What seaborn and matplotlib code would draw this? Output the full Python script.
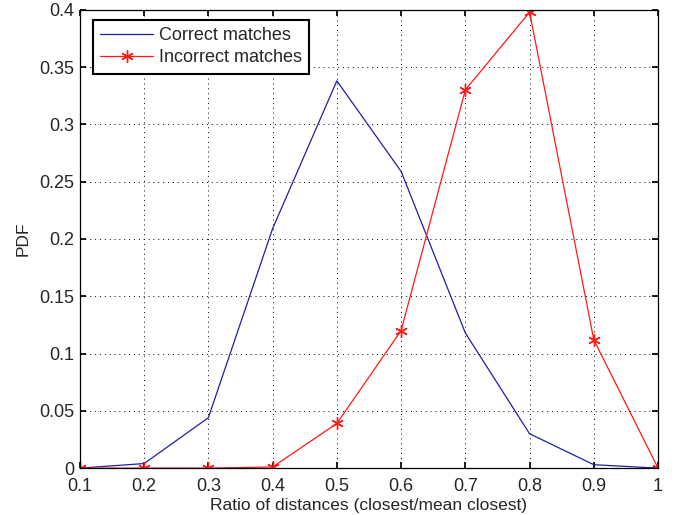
import pandas as pd
import matplotlib.pyplot as plt
import seaborn as sns

sns.set_theme(style="ticks")
plt.rcParams['font.family'] = ['Liberation Sans', 'DejaVu Sans']

ratio = [0.1, 0.2, 0.3, 0.4, 0.5, 0.6, 0.7, 0.8, 0.9, 1.0]
correct = [0.0, 0.004, 0.044, 0.209, 0.338, 0.259, 0.118, 0.030, 0.003, 0.0]
incorrect = [0.0, 0.0, 0.0, 0.001, 0.039, 0.120, 0.330, 0.398, 0.112, 0.0]

df = pd.DataFrame({'ratio': ratio, 'Correct matches': correct, 'Incorrect matches': incorrect})

fig = plt.figure(figsize=(6.77, 5.15), dpi=100)
ax = fig.add_axes([0.118, 0.091, 0.854, 0.890])

sns.lineplot(data=df, x='ratio', y='Correct matches', ax=ax, color='#2020a0',
             linewidth=0.9, label='Correct matches')
sns.lineplot(data=df, x='ratio', y='Incorrect matches', ax=ax, color='#ff1a1a',
             linewidth=0.9, marker=(6, 2, 0), markersize=9, markeredgewidth=1.0,
             markeredgecolor='#ff1a1a', label='Incorrect matches')

ax.set_xlim(0.1, 1.0)
ax.set_ylim(0, 0.4)
ax.set_xticks(ratio)
ax.set_xticklabels(['0.1', '0.2', '0.3', '0.4', '0.5', '0.6', '0.7', '0.8', '0.9', '1'])
ax.set_yticks([0, 0.05, 0.1, 0.15, 0.2, 0.25, 0.3, 0.35, 0.4])
ax.set_yticklabels(['0', '0.05', '0.1', '0.15', '0.2', '0.25', '0.3', '0.35', '0.4'])
ax.grid(True, linestyle=(0, (1, 4)), color='black', linewidth=0.7)
ax.tick_params(direction='in', length=4, labelsize=13, top=True, right=True, color='black')
ax.tick_params(axis='x', pad=7)
ax.tick_params(axis='y', pad=4)
for s in ax.spines.values():
    s.set_color('black')
    s.set_linewidth(0.9)

ax.set_xlabel('Ratio of distances (closest/mean closest)', fontsize=12.5, labelpad=2)
ax.set_ylabel('PDF', fontsize=12.5, labelpad=6)

leg = ax.legend(loc='upper left', fontsize=13, fancybox=False, framealpha=1,
                edgecolor='black', bbox_to_anchor=(-0.002, 1.01), borderaxespad=0.8,
                handlelength=2.9, labelspacing=0.3, borderpad=0.4, handletextpad=0.35)
leg.get_frame().set_linewidth(1.5)

fig.savefig('out.png', dpi=100)
